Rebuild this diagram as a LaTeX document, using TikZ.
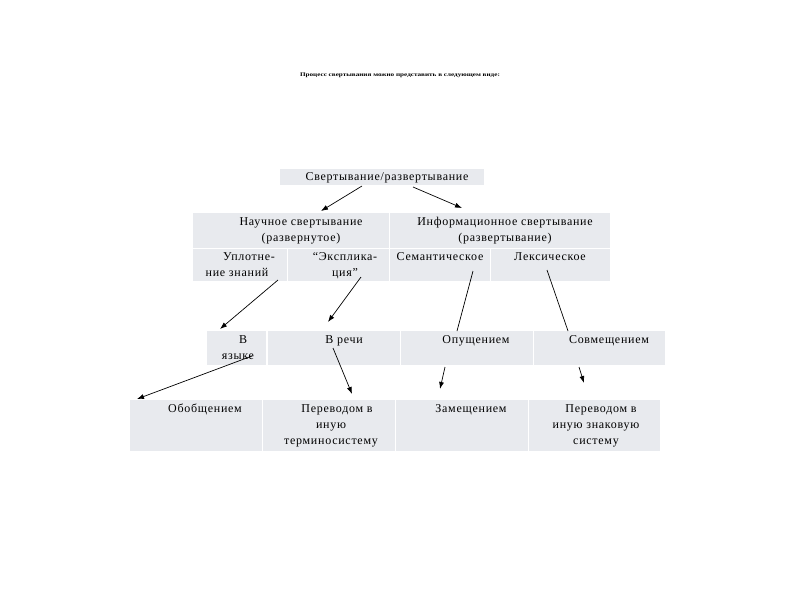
\documentclass[tikz,border=0pt]{standalone}
\usepackage{fontspec}
\usepackage{graphicx}
\setmainfont{Liberation Serif}
\usetikzlibrary{arrows.meta}
\definecolor{cellgray}{RGB}{232,234,238}
\begin{document}
\begin{tikzpicture}[x=1pt,y=-1pt,
  cell/.style={fill=cellgray,draw=none,inner sep=0pt,outer sep=0pt,anchor=north west},
  txt/.style={inner sep=0pt,anchor=north,align=center,font=\fontsize{12}{16}\selectfont\addfontfeature{LetterSpace=6}},
  arr/.style={line width=0.7pt,-{Latex[length=7pt,width=5pt]}},
  ln/.style={line width=0.7pt}]
\useasboundingbox (0,0) rectangle (800,600);
\fill[white] (0,0) rectangle (800,600);
% title
\node[inner sep=0pt,font=\fontsize{5.5}{6}\selectfont\bfseries] (title) at (400,75)
  {\scalebox{1.3}[1]{Процесс свертывания можно представить в следующем виде:}};
% top
\node[cell,minimum width=204,minimum height=16] (top) at (280,169) {};
\node[txt] (ttop) at (387,172) {Свертывание/развертывание};
% row 2
\node[cell,minimum width=196,minimum height=35] (r2a) at (193,213) {};
\node[cell,minimum width=220,minimum height=35] (r2b) at (390,213) {};
\node[cell,minimum width=94,minimum height=32] (r2c) at (193,249) {};
\node[cell,minimum width=101,minimum height=32] (r2d) at (288,249) {};
\node[cell,minimum width=100,minimum height=32] (r2e) at (390,249) {};
\node[cell,minimum width=119,minimum height=32] (r2f) at (491,249) {};
\node[txt] (t2a) at (301,217) {Научное свертывание\\(развернутое)};
\node[txt] (t2b) at (505,217) {Информационное свертывание\\(развертывание)};
\node[txt] (t2c) at (237,252) {\hspace*{24pt}Уплотне-\\ние знаний};
\node[txt] (t2d) at (345,252) {“Эксплика-\\ция”};
\node[txt] (t2e) at (440,252) {Семантическое};
\node[txt] (t2f) at (550,252) {Лексическое};
% row 3
\node[cell,minimum width=59,minimum height=34] (r3a) at (207,331) {};
\node[cell,minimum width=132,minimum height=34] (r3b) at (268,331) {};
\node[cell,minimum width=132,minimum height=34] (r3c) at (401,331) {};
\node[cell,minimum width=131,minimum height=34] (r3d) at (534,331) {};
\node[txt] (t3a) at (238,335) {\hspace*{10pt}В\\языке};
\node[txt] (t3b) at (344,335) {В речи};
\node[txt] (t3c) at (476,335) {Опущением};
\node[txt] (t3d) at (609,335) {Совмещением};
% row 4
\node[cell,minimum width=132,minimum height=51] (r4a) at (130,400) {};
\node[cell,minimum width=132,minimum height=51] (r4b) at (263,400) {};
\node[cell,minimum width=132,minimum height=51] (r4c) at (396,400) {};
\node[cell,minimum width=131,minimum height=51] (r4d) at (529,400) {};
\node[txt] (t4a) at (205,404) {Обобщением};
\node[txt] (t4b) at (331,404) {\hspace*{12pt}Переводом в\\иную\\терминосистему};
\node[txt] (t4c) at (471,404) {Замещением};
\node[txt] (t4d) at (596,404) {\hspace*{10pt}Переводом в\\иную знаковую\\систему};
% connector points
\coordinate (a1s) at (362,186); \coordinate (a1e) at (321,211);
\coordinate (a2s) at (413,187); \coordinate (a2e) at (462,208);
\coordinate (a3s) at (278,280); \coordinate (a3e) at (220,329);
\coordinate (a4s) at (361,277); \coordinate (a4e) at (328,322);
\coordinate (a5s) at (473,271); \coordinate (a5e) at (457,331);
\coordinate (a6s) at (547,270); \coordinate (a6e) at (568,331);
\coordinate (a7s) at (445,367); \coordinate (a7e) at (440,389);
\coordinate (a8s) at (579,367); \coordinate (a8e) at (584,383);
\coordinate (a9s) at (252,356); \coordinate (a9e) at (137,399);
\coordinate (a10s) at (333,348); \coordinate (a10e) at (352,394);
\draw[arr] (a1s) -- (a1e);
\draw[arr] (a2s) -- (a2e);
\draw[arr] (a3s) -- (a3e);
\draw[arr] (a4s) -- (a4e);
\draw[ln] (a5s) -- (a5e);
\draw[ln] (a6s) -- (a6e);
\draw[arr] (a7s) -- (a7e);
\draw[arr] (a8s) -- (a8e);
\draw[arr] (a9s) -- (a9e);
\draw[arr] (a10s) -- (a10e);
\end{tikzpicture}
\end{document}
